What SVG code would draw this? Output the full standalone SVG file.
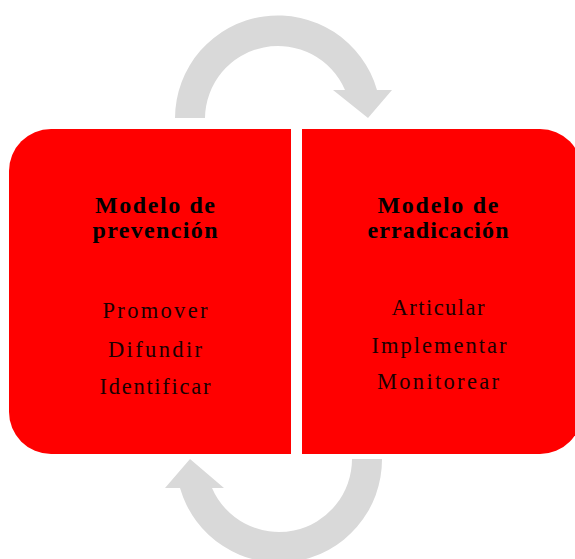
<svg xmlns="http://www.w3.org/2000/svg" width="575" height="559" viewBox="0 0 575 559">
<style>
.box{fill:#ff0000}
.arrow{fill:#d9d9d9}
.title{font-family:"Liberation Serif","DejaVu Serif",serif;font-weight:bold;font-size:24px;fill:#000;text-anchor:middle}
.item{font-family:"Liberation Serif","DejaVu Serif",serif;font-size:22.5px;fill:#1a0000;text-anchor:middle}
</style>
<rect width="575" height="559" fill="#fff"/>
<g id="connectors">
<path class="arrow" d="M175,118 A103,103 0 0 1 377,90 L392,90 L368,118 L333,90 L345,90 A73,73 0 0 0 205,118 Z"/>
<path class="arrow" d="M382,459 A103,103 0 0 1 180,488 L165,488 L190,459 L224,488 L212,488 A73,73 0 0 0 352,459 Z"/>
</g>
<g id="node-prevencion">
<path class="box" d="M51,129 L291,129 L291,454 L51,454 A42,42 0 0 1 9,412 L9,171 A42,42 0 0 1 51,129 Z"/>
<text class="title" x="155" y="213" textLength="120" lengthAdjust="spacing">Modelo de</text>
<text class="title" x="155" y="238" textLength="125" lengthAdjust="spacing">prevención</text>
<text class="item" x="155" y="318" textLength="105" lengthAdjust="spacing">Promover</text>
<text class="item" x="155" y="357" textLength="94" lengthAdjust="spacing">Difundir</text>
<text class="item" x="155" y="394" textLength="111" lengthAdjust="spacing">Identificar</text>
</g>
<g id="node-erradicacion">
<path class="box" d="M302,129 L540,129 A42,42 0 0 1 582,171 L582,412 A42,42 0 0 1 540,454 L302,454 Z"/>
<text class="title" x="438" y="213" textLength="121" lengthAdjust="spacing">Modelo de</text>
<text class="title" x="438" y="238" textLength="141" lengthAdjust="spacing">erradicación</text>
<text class="item" x="438" y="315" textLength="93" lengthAdjust="spacing">Articular</text>
<text class="item" x="439" y="353" textLength="135" lengthAdjust="spacing">Implementar</text>
<text class="item" x="438" y="389" textLength="122" lengthAdjust="spacing">Monitorear</text>
</g>
</svg>
